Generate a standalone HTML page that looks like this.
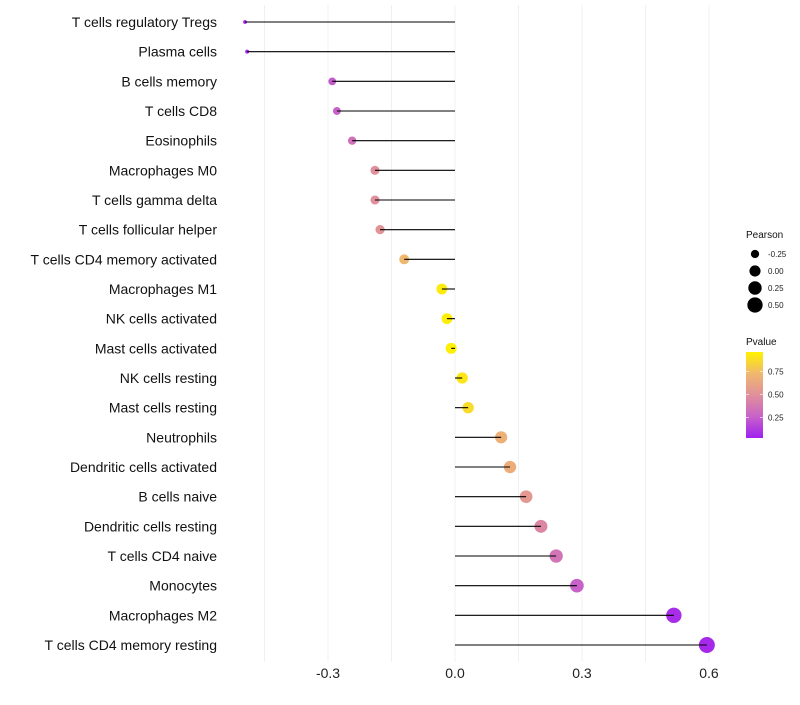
<!DOCTYPE html>
<html><head><meta charset="utf-8"><style>
body{margin:0;background:#fff;font-family:"Liberation Sans",sans-serif}
</style></head><body>
<svg id="chart" width="800" height="700" style="font-family:'Liberation Sans',sans-serif">
<defs><linearGradient id="pg" x1="0" y1="1" x2="0" y2="0">
<stop offset="0" stop-color="#A020F0"/><stop offset="0.25" stop-color="#C862C8"/><stop offset="0.5" stop-color="#E0909A"/><stop offset="0.75" stop-color="#F0B86E"/><stop offset="1" stop-color="#FFF200"/></linearGradient></defs>
</svg>
<script>
const categories=["T cells regulatory  Tregs","Plasma cells","B cells memory","T cells CD8","Eosinophils","Macrophages M0","T cells gamma delta","T cells follicular helper","T cells CD4 memory activated","Macrophages M1","NK cells activated","Mast cells activated","NK cells resting","Mast cells resting","Neutrophils","Dendritic cells activated","B cells naive","Dendritic cells resting","T cells CD4 naive","Monocytes","Macrophages M2","T cells CD4 memory resting"];
const pearson=[-0.496,-0.491,-0.29,-0.279,-0.243,-0.189,-0.189,-0.177,-0.12,-0.031,-0.019,-0.009,0.017,0.031,0.109,0.13,0.168,0.203,0.239,0.288,0.517,0.595];
const pvalue=[0.02,0.03,0.22,0.25,0.33,0.5,0.5,0.52,0.75,0.97,0.98,0.99,0.95,0.9,0.7,0.68,0.55,0.45,0.35,0.25,0.05,0.03];
const xTicks=[-0.3,0.0,0.3,0.6];
const xTickLabels=["-0.3","0.0","0.3","0.6"];
const gridVals=[-0.45,-0.3,-0.15,0,0.15,0.3,0.45,0.6];
const sizeLegend=[-0.25,0,0.25,0.5];
const sizeLegendLabels=["-0.25","0.00","0.25","0.50"];
const pLegend=[0.25,0.5,0.75];
const pLegendLabels=["0.25","0.50","0.75"];

const NS="http://www.w3.org/2000/svg";
const svg=document.getElementById('chart');
const x=v=>455+v*423.3;
const y=i=>22+i*29.667;
const r=v=>Math.sqrt(Math.max(0.5,3.5+55*(v+0.5)));
const stops=[[0,[160,32,240]],[0.25,[200,98,200]],[0.5,[224,144,154]],[0.75,[240,184,110]],[1,[255,242,0]]];
function col(p){for(let k=1;k<stops.length;k++){if(p<=stops[k][0]){const a=stops[k-1],b=stops[k],t=(p-a[0])/(b[0]-a[0]);return 'rgb('+a[1].map((c,j)=>Math.round(c+(b[1][j]-c)*t)).join(',')+')';}}return 'rgb(255,242,0)';}
function mk(t,a,p){const e=document.createElementNS(NS,t);for(const k in a)e.setAttribute(k,a[k]);(p||svg).appendChild(e);return e;}

gridVals.forEach(g=>{
  const l=mk('line',{x1:x(g),x2:x(g),y1:5,y2:662,stroke:'#f0f0f0','stroke-width':1});
  
  
});
xTicks.forEach((t,i)=>{
  const e=mk('text',{x:x(t),y:678,'text-anchor':'middle','font-size':14,fill:'#222'});
  e.textContent=xTickLabels[i];
  
  
});
categories.forEach((c,i)=>{
  const t=mk('text',{x:217,y:y(i)+5,'text-anchor':'end','font-size':14,fill:'#111'});
  t.textContent=c;
  
  
  const pt=mk('circle',{cx:x(pearson[i]),cy:y(i),r:r(pearson[i]),fill:col(pvalue[i])});
  
  
  const s=mk('line',{x1:x(0),x2:x(pearson[i]),y1:y(i),y2:y(i),stroke:'#000','stroke-width':1.1});
  
  
});
const lt=mk('text',{x:746,y:238,'font-size':10,fill:'#111'});lt.textContent='Pearson';


sizeLegend.forEach((v,i)=>{
  const cy=254+i*17;
  const c=mk('circle',{cx:755,cy:cy,r:r(v),fill:'#000'});
  
  
  const t=mk('text',{x:768,y:cy+3,'font-size':8,fill:'#222'});t.textContent=sizeLegendLabels[i];
  
  
});
const pt2=mk('text',{x:746,y:345,'font-size':10,fill:'#111'});pt2.textContent='Pvalue';


const bar=mk('rect',{x:746,y:352,width:17,height:86,fill:'url(#pg)'});


const py=p=>438-(p-0.03)*(86/0.93);
pLegend.forEach((p,i)=>{
  mk('line',{x1:746,x2:749,y1:py(p),y2:py(p),stroke:'#fff','stroke-width':0.6});
  mk('line',{x1:760,x2:763,y1:py(p),y2:py(p),stroke:'#fff','stroke-width':0.6});
  const t=mk('text',{x:768,y:py(p)+3,'font-size':8,fill:'#222'});t.textContent=pLegendLabels[i];
  
  
});
</script>
</body></html>
